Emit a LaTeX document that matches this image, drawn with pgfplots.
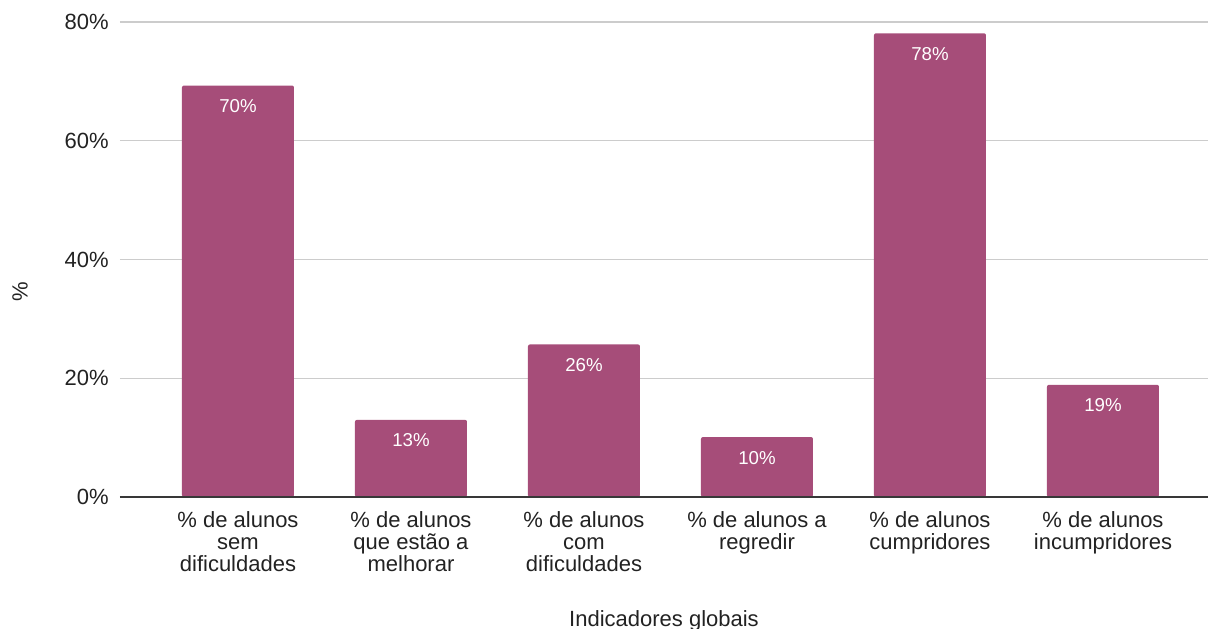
\documentclass[border=0pt]{standalone}
\usepackage{pgfplots}
\pgfplotsset{compat=1.18}
\usepackage{fontspec}
\setmainfont{Liberation Sans}
\definecolor{barc}{HTML}{A64D79}
\definecolor{txt}{HTML}{222222}
\definecolor{gridc}{HTML}{CCCCCC}
\begin{document}
\begin{tikzpicture}
\begin{axis}[
  at={(0,0)}, anchor=south west,
  scale only axis,
  width=816pt, height=356.25pt,
  xmin=-0.682, xmax=5.607,
  ymin=0, ymax=80,
  axis line style={draw=none},
  major tick length=0pt,
  tick style={draw=none},
  ymajorgrids,
  major grid style={gridc, line width=0.9pt},
  ytick={0,20,40,60,80},
  yticklabels={0\%,20\%,40\%,60\%,80\%},
  yticklabel style={font=\fontsize{16.5pt}{16.5pt}\selectfont, text=txt, anchor=east, inner sep=0pt, xshift=-8.25pt},
  xtick={0,1,2,3,4,5},
  xticklabels={
    {\% de alunos\\sem\\dificuldades},
    {\% de alunos\\que estão a\\melhorar},
    {\% de alunos\\com\\dificuldades},
    {\% de alunos a\\regredir},
    {\% de alunos\\cumpridores},
    {\% de alunos\\incumpridores}},
  xticklabel style={font=\fontsize{16.5pt}{16.5pt}\selectfont, text=txt, align=center, anchor=north, inner sep=0pt, yshift=-10.5pt},
  xlabel={Indicadores globais},
  xlabel style={font=\fontsize{16.5pt}{16.5pt}\selectfont, text=txt, at={(axis description cs:0.5,0)}, anchor=base, inner sep=0pt, yshift=-97pt},
  ylabel={\%},
  ylabel style={font=\fontsize{16.5pt}{16.5pt}\selectfont, text=txt, at={(axis description cs:0,0.4316)}, anchor=center, inner sep=0pt, yshift=75pt},
  ybar,
  bar width=84pt,
  nodes near coords,
  point meta=explicit symbolic,
  every node near coord/.append style={font=\fontsize{14pt}{14pt}\selectfont, text=white, anchor=north, yshift=-7pt},
  clip=false,
]
\addplot[fill=barc, draw=none, rounded corners=1.5pt] coordinates {
  (0,69.3) [70\%]
  (1,13.0) [13\%]
  (2,25.7) [26\%]
  (3,10.1) [10\%]
  (4,78.1) [78\%]
  (5,18.9) [19\%]
};
\draw[color=txt!90, line width=1.3pt] (rel axis cs:0,0) -- (rel axis cs:1,0);
\end{axis}
\pgfresetboundingbox
\path[use as bounding box] (-90pt,-99pt) rectangle (816pt,372.75pt);
\end{tikzpicture}
\end{document}
